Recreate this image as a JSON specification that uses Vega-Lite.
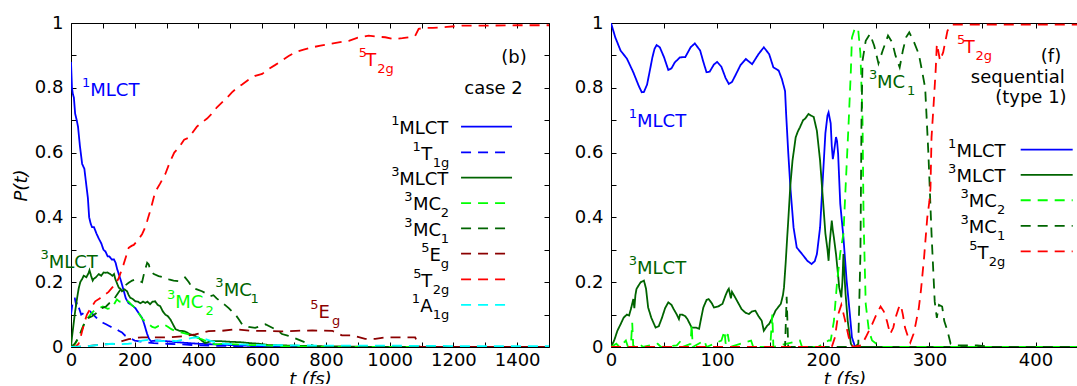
{
"$schema": "https://vega.github.io/schema/vega-lite/v6.json",
"padding": {"left": 12, "top": 14, "right": 0, "bottom": -4},
"bounds": "flush",
"spacing": 62,
"config": {
  "view": {"stroke": null},
  "font": "DejaVu Sans",
  "axis": {"labelFont": "DejaVu Sans", "labelFontSize": 18, "labelColor": "#000", "titleFont": "DejaVu Sans", "titleFontSize": 18, "titleColor": "#000", "titleFontWeight": "normal", "grid": false, "domainColor": "#000", "domainWidth": 1, "tickColor": "#000", "tickSize": -5, "tickWidth": 1, "labelFlush": false, "labelOverlap": false, "labelBound": false}
},
"datasets": {
"curves": [
{"g":"b","s":"1MLCT","t":0,"p":0.88},{"g":"b","s":"1MLCT","t":3,"p":0.8},{"g":"b","s":"1MLCT","t":6,"p":0.78},{"g":"b","s":"1MLCT","t":9,"p":0.77},{"g":"b","s":"1MLCT","t":13,"p":0.72},{"g":"b","s":"1MLCT","t":18,"p":0.7},{"g":"b","s":"1MLCT","t":22,"p":0.68},{"g":"b","s":"1MLCT","t":28,"p":0.62},{"g":"b","s":"1MLCT","t":35,"p":0.565},{"g":"b","s":"1MLCT","t":42,"p":0.55},{"g":"b","s":"1MLCT","t":48,"p":0.5},{"g":"b","s":"1MLCT","t":53,"p":0.46},{"g":"b","s":"1MLCT","t":57,"p":0.4},{"g":"b","s":"1MLCT","t":62,"p":0.38},{"g":"b","s":"1MLCT","t":66,"p":0.37},{"g":"b","s":"1MLCT","t":72,"p":0.37},{"g":"b","s":"1MLCT","t":80,"p":0.35},{"g":"b","s":"1MLCT","t":87,"p":0.335},{"g":"b","s":"1MLCT","t":95,"p":0.32},{"g":"b","s":"1MLCT","t":102,"p":0.3},{"g":"b","s":"1MLCT","t":108,"p":0.295},{"g":"b","s":"1MLCT","t":115,"p":0.28},{"g":"b","s":"1MLCT","t":120,"p":0.28},{"g":"b","s":"1MLCT","t":128,"p":0.27},{"g":"b","s":"1MLCT","t":135,"p":0.27},{"g":"b","s":"1MLCT","t":140,"p":0.26},{"g":"b","s":"1MLCT","t":145,"p":0.24},{"g":"b","s":"1MLCT","t":150,"p":0.225},{"g":"b","s":"1MLCT","t":158,"p":0.2},{"g":"b","s":"1MLCT","t":165,"p":0.175},{"g":"b","s":"1MLCT","t":172,"p":0.15},{"g":"b","s":"1MLCT","t":181,"p":0.135},{"g":"b","s":"1MLCT","t":190,"p":0.13},{"g":"b","s":"1MLCT","t":202,"p":0.12},{"g":"b","s":"1MLCT","t":212,"p":0.105},{"g":"b","s":"1MLCT","t":223,"p":0.09},{"g":"b","s":"1MLCT","t":230,"p":0.07},{"g":"b","s":"1MLCT","t":239,"p":0.04},{"g":"b","s":"1MLCT","t":245,"p":0.025},{"g":"b","s":"1MLCT","t":251,"p":0.018},{"g":"b","s":"1MLCT","t":270,"p":0.02},{"g":"b","s":"1MLCT","t":300,"p":0.018},{"g":"b","s":"1MLCT","t":330,"p":0.015},{"g":"b","s":"1MLCT","t":370,"p":0.012},{"g":"b","s":"1MLCT","t":400,"p":0.01},{"g":"b","s":"1MLCT","t":450,"p":0.008},{"g":"b","s":"1MLCT","t":500,"p":0.006},{"g":"b","s":"1MLCT","t":550,"p":0.004},{"g":"b","s":"1MLCT","t":600,"p":0.002},{"g":"b","s":"1MLCT","t":700,"p":0.001},{"g":"b","s":"1MLCT","t":800,"p":0},{"g":"b","s":"1MLCT","t":1500,"p":0},
{"g":"b","s":"1T1g","t":0,"p":0.1},{"g":"b","s":"1T1g","t":4,"p":0.13},{"g":"b","s":"1T1g","t":8,"p":0.15},{"g":"b","s":"1T1g","t":12,"p":0.15},{"g":"b","s":"1T1g","t":16,"p":0.13},{"g":"b","s":"1T1g","t":20,"p":0.14},{"g":"b","s":"1T1g","t":25,"p":0.12},{"g":"b","s":"1T1g","t":32,"p":0.1},{"g":"b","s":"1T1g","t":40,"p":0.105},{"g":"b","s":"1T1g","t":50,"p":0.11},{"g":"b","s":"1T1g","t":60,"p":0.11},{"g":"b","s":"1T1g","t":70,"p":0.1},{"g":"b","s":"1T1g","t":80,"p":0.09},{"g":"b","s":"1T1g","t":90,"p":0.08},{"g":"b","s":"1T1g","t":100,"p":0.075},{"g":"b","s":"1T1g","t":110,"p":0.07},{"g":"b","s":"1T1g","t":120,"p":0.065},{"g":"b","s":"1T1g","t":130,"p":0.06},{"g":"b","s":"1T1g","t":140,"p":0.058},{"g":"b","s":"1T1g","t":150,"p":0.05},{"g":"b","s":"1T1g","t":160,"p":0.045},{"g":"b","s":"1T1g","t":170,"p":0.035},{"g":"b","s":"1T1g","t":180,"p":0.03},{"g":"b","s":"1T1g","t":190,"p":0.025},{"g":"b","s":"1T1g","t":200,"p":0.02},{"g":"b","s":"1T1g","t":230,"p":0.015},{"g":"b","s":"1T1g","t":260,"p":0.012},{"g":"b","s":"1T1g","t":300,"p":0.01},{"g":"b","s":"1T1g","t":350,"p":0.008},{"g":"b","s":"1T1g","t":400,"p":0.005},{"g":"b","s":"1T1g","t":500,"p":0.003},{"g":"b","s":"1T1g","t":600,"p":0.002},{"g":"b","s":"1T1g","t":800,"p":0},{"g":"b","s":"1T1g","t":1500,"p":0},
{"g":"b","s":"3MLCT","t":0,"p":0},{"g":"b","s":"3MLCT","t":3,"p":0.03},{"g":"b","s":"3MLCT","t":8,"p":0.07},{"g":"b","s":"3MLCT","t":13,"p":0.11},{"g":"b","s":"3MLCT","t":19,"p":0.15},{"g":"b","s":"3MLCT","t":24,"p":0.18},{"g":"b","s":"3MLCT","t":29,"p":0.2},{"g":"b","s":"3MLCT","t":35,"p":0.21},{"g":"b","s":"3MLCT","t":40,"p":0.22},{"g":"b","s":"3MLCT","t":48,"p":0.215},{"g":"b","s":"3MLCT","t":55,"p":0.228},{"g":"b","s":"3MLCT","t":58,"p":0.237},{"g":"b","s":"3MLCT","t":63,"p":0.22},{"g":"b","s":"3MLCT","t":68,"p":0.205},{"g":"b","s":"3MLCT","t":71,"p":0.21},{"g":"b","s":"3MLCT","t":78,"p":0.215},{"g":"b","s":"3MLCT","t":87,"p":0.225},{"g":"b","s":"3MLCT","t":95,"p":0.22},{"g":"b","s":"3MLCT","t":102,"p":0.23},{"g":"b","s":"3MLCT","t":108,"p":0.229},{"g":"b","s":"3MLCT","t":115,"p":0.23},{"g":"b","s":"3MLCT","t":123,"p":0.225},{"g":"b","s":"3MLCT","t":130,"p":0.22},{"g":"b","s":"3MLCT","t":135,"p":0.225},{"g":"b","s":"3MLCT","t":139,"p":0.21},{"g":"b","s":"3MLCT","t":145,"p":0.195},{"g":"b","s":"3MLCT","t":150,"p":0.183},{"g":"b","s":"3MLCT","t":155,"p":0.18},{"g":"b","s":"3MLCT","t":160,"p":0.172},{"g":"b","s":"3MLCT","t":168,"p":0.178},{"g":"b","s":"3MLCT","t":176,"p":0.172},{"g":"b","s":"3MLCT","t":181,"p":0.16},{"g":"b","s":"3MLCT","t":186,"p":0.152},{"g":"b","s":"3MLCT","t":194,"p":0.148},{"g":"b","s":"3MLCT","t":202,"p":0.141},{"g":"b","s":"3MLCT","t":210,"p":0.14},{"g":"b","s":"3MLCT","t":218,"p":0.135},{"g":"b","s":"3MLCT","t":226,"p":0.14},{"g":"b","s":"3MLCT","t":233,"p":0.136},{"g":"b","s":"3MLCT","t":240,"p":0.14},{"g":"b","s":"3MLCT","t":248,"p":0.132},{"g":"b","s":"3MLCT","t":256,"p":0.14},{"g":"b","s":"3MLCT","t":264,"p":0.141},{"g":"b","s":"3MLCT","t":272,"p":0.13},{"g":"b","s":"3MLCT","t":280,"p":0.126},{"g":"b","s":"3MLCT","t":288,"p":0.11},{"g":"b","s":"3MLCT","t":296,"p":0.1},{"g":"b","s":"3MLCT","t":304,"p":0.095},{"g":"b","s":"3MLCT","t":312,"p":0.085},{"g":"b","s":"3MLCT","t":320,"p":0.07},{"g":"b","s":"3MLCT","t":328,"p":0.055},{"g":"b","s":"3MLCT","t":340,"p":0.05},{"g":"b","s":"3MLCT","t":354,"p":0.049},{"g":"b","s":"3MLCT","t":364,"p":0.045},{"g":"b","s":"3MLCT","t":374,"p":0.039},{"g":"b","s":"3MLCT","t":388,"p":0.035},{"g":"b","s":"3MLCT","t":401,"p":0.028},{"g":"b","s":"3MLCT","t":410,"p":0.02},{"g":"b","s":"3MLCT","t":421,"p":0.012},{"g":"b","s":"3MLCT","t":440,"p":0.018},{"g":"b","s":"3MLCT","t":470,"p":0.018},{"g":"b","s":"3MLCT","t":500,"p":0.016},{"g":"b","s":"3MLCT","t":530,"p":0.015},{"g":"b","s":"3MLCT","t":560,"p":0.012},{"g":"b","s":"3MLCT","t":590,"p":0.01},{"g":"b","s":"3MLCT","t":620,"p":0.006},{"g":"b","s":"3MLCT","t":700,"p":0.004},{"g":"b","s":"3MLCT","t":800,"p":0.002},{"g":"b","s":"3MLCT","t":1000,"p":0},{"g":"b","s":"3MLCT","t":1500,"p":0},
{"g":"b","s":"3MC2","t":0,"p":0},{"g":"b","s":"3MC2","t":10,"p":0.005},{"g":"b","s":"3MC2","t":24,"p":0.028},{"g":"b","s":"3MC2","t":32,"p":0.05},{"g":"b","s":"3MC2","t":40,"p":0.07},{"g":"b","s":"3MC2","t":50,"p":0.085},{"g":"b","s":"3MC2","t":61,"p":0.1},{"g":"b","s":"3MC2","t":70,"p":0.11},{"g":"b","s":"3MC2","t":80,"p":0.115},{"g":"b","s":"3MC2","t":87,"p":0.12},{"g":"b","s":"3MC2","t":100,"p":0.125},{"g":"b","s":"3MC2","t":115,"p":0.118},{"g":"b","s":"3MC2","t":129,"p":0.12},{"g":"b","s":"3MC2","t":137,"p":0.135},{"g":"b","s":"3MC2","t":144,"p":0.147},{"g":"b","s":"3MC2","t":152,"p":0.14},{"g":"b","s":"3MC2","t":160,"p":0.141},{"g":"b","s":"3MC2","t":170,"p":0.145},{"g":"b","s":"3MC2","t":181,"p":0.14},{"g":"b","s":"3MC2","t":190,"p":0.13},{"g":"b","s":"3MC2","t":202,"p":0.12},{"g":"b","s":"3MC2","t":215,"p":0.1},{"g":"b","s":"3MC2","t":225,"p":0.085},{"g":"b","s":"3MC2","t":233,"p":0.08},{"g":"b","s":"3MC2","t":245,"p":0.07},{"g":"b","s":"3MC2","t":255,"p":0.062},{"g":"b","s":"3MC2","t":264,"p":0.059},{"g":"b","s":"3MC2","t":275,"p":0.065},{"g":"b","s":"3MC2","t":291,"p":0.07},{"g":"b","s":"3MC2","t":305,"p":0.062},{"g":"b","s":"3MC2","t":315,"p":0.055},{"g":"b","s":"3MC2","t":328,"p":0.049},{"g":"b","s":"3MC2","t":345,"p":0.045},{"g":"b","s":"3MC2","t":369,"p":0.039},{"g":"b","s":"3MC2","t":390,"p":0.03},{"g":"b","s":"3MC2","t":411,"p":0.024},{"g":"b","s":"3MC2","t":430,"p":0.015},{"g":"b","s":"3MC2","t":453,"p":0.008},{"g":"b","s":"3MC2","t":480,"p":0.01},{"g":"b","s":"3MC2","t":520,"p":0.008},{"g":"b","s":"3MC2","t":560,"p":0.006},{"g":"b","s":"3MC2","t":600,"p":0.005},{"g":"b","s":"3MC2","t":650,"p":0.003},{"g":"b","s":"3MC2","t":700,"p":0.002},{"g":"b","s":"3MC2","t":800,"p":0},{"g":"b","s":"3MC2","t":1500,"p":0},
{"g":"b","s":"3MC1","t":0,"p":0},{"g":"b","s":"3MC1","t":12,"p":0.01},{"g":"b","s":"3MC1","t":24,"p":0.03},{"g":"b","s":"3MC1","t":35,"p":0.055},{"g":"b","s":"3MC1","t":45,"p":0.08},{"g":"b","s":"3MC1","t":55,"p":0.09},{"g":"b","s":"3MC1","t":66,"p":0.095},{"g":"b","s":"3MC1","t":80,"p":0.105},{"g":"b","s":"3MC1","t":97,"p":0.12},{"g":"b","s":"3MC1","t":110,"p":0.125},{"g":"b","s":"3MC1","t":120,"p":0.135},{"g":"b","s":"3MC1","t":129,"p":0.141},{"g":"b","s":"3MC1","t":140,"p":0.155},{"g":"b","s":"3MC1","t":150,"p":0.17},{"g":"b","s":"3MC1","t":160,"p":0.183},{"g":"b","s":"3MC1","t":170,"p":0.19},{"g":"b","s":"3MC1","t":181,"p":0.198},{"g":"b","s":"3MC1","t":192,"p":0.205},{"g":"b","s":"3MC1","t":202,"p":0.209},{"g":"b","s":"3MC1","t":212,"p":0.205},{"g":"b","s":"3MC1","t":223,"p":0.2},{"g":"b","s":"3MC1","t":230,"p":0.23},{"g":"b","s":"3MC1","t":239,"p":0.26},{"g":"b","s":"3MC1","t":244,"p":0.255},{"g":"b","s":"3MC1","t":249,"p":0.235},{"g":"b","s":"3MC1","t":260,"p":0.225},{"g":"b","s":"3MC1","t":275,"p":0.219},{"g":"b","s":"3MC1","t":290,"p":0.215},{"g":"b","s":"3MC1","t":307,"p":0.209},{"g":"b","s":"3MC1","t":322,"p":0.205},{"g":"b","s":"3MC1","t":338,"p":0.203},{"g":"b","s":"3MC1","t":348,"p":0.21},{"g":"b","s":"3MC1","t":358,"p":0.215},{"g":"b","s":"3MC1","t":370,"p":0.2},{"g":"b","s":"3MC1","t":380,"p":0.183},{"g":"b","s":"3MC1","t":395,"p":0.178},{"g":"b","s":"3MC1","t":411,"p":0.172},{"g":"b","s":"3MC1","t":425,"p":0.165},{"g":"b","s":"3MC1","t":437,"p":0.157},{"g":"b","s":"3MC1","t":447,"p":0.16},{"g":"b","s":"3MC1","t":457,"p":0.15},{"g":"b","s":"3MC1","t":470,"p":0.14},{"g":"b","s":"3MC1","t":483,"p":0.13},{"g":"b","s":"3MC1","t":495,"p":0.12},{"g":"b","s":"3MC1","t":505,"p":0.11},{"g":"b","s":"3MC1","t":516,"p":0.1},{"g":"b","s":"3MC1","t":527,"p":0.085},{"g":"b","s":"3MC1","t":537,"p":0.07},{"g":"b","s":"3MC1","t":557,"p":0.062},{"g":"b","s":"3MC1","t":578,"p":0.059},{"g":"b","s":"3MC1","t":595,"p":0.065},{"g":"b","s":"3MC1","t":610,"p":0.07},{"g":"b","s":"3MC1","t":630,"p":0.06},{"g":"b","s":"3MC1","t":650,"p":0.05},{"g":"b","s":"3MC1","t":662,"p":0.04},{"g":"b","s":"3MC1","t":680,"p":0.035},{"g":"b","s":"3MC1","t":703,"p":0.027},{"g":"b","s":"3MC1","t":725,"p":0.018},{"g":"b","s":"3MC1","t":745,"p":0.01},{"g":"b","s":"3MC1","t":766,"p":0.002},{"g":"b","s":"3MC1","t":800,"p":0},{"g":"b","s":"3MC1","t":1500,"p":0},
{"g":"b","s":"5Eg","t":0,"p":0},{"g":"b","s":"5Eg","t":50,"p":0.002},{"g":"b","s":"5Eg","t":97,"p":0.008},{"g":"b","s":"5Eg","t":139,"p":0.01},{"g":"b","s":"5Eg","t":160,"p":0.018},{"g":"b","s":"5Eg","t":181,"p":0.024},{"g":"b","s":"5Eg","t":202,"p":0.028},{"g":"b","s":"5Eg","t":223,"p":0.03},{"g":"b","s":"5Eg","t":264,"p":0.03},{"g":"b","s":"5Eg","t":307,"p":0.03},{"g":"b","s":"5Eg","t":348,"p":0.033},{"g":"b","s":"5Eg","t":390,"p":0.039},{"g":"b","s":"5Eg","t":432,"p":0.049},{"g":"b","s":"5Eg","t":474,"p":0.05},{"g":"b","s":"5Eg","t":516,"p":0.055},{"g":"b","s":"5Eg","t":568,"p":0.05},{"g":"b","s":"5Eg","t":620,"p":0.05},{"g":"b","s":"5Eg","t":660,"p":0.048},{"g":"b","s":"5Eg","t":705,"p":0.05},{"g":"b","s":"5Eg","t":757,"p":0.051},{"g":"b","s":"5Eg","t":820,"p":0.05},{"g":"b","s":"5Eg","t":850,"p":0.036},{"g":"b","s":"5Eg","t":883,"p":0.036},{"g":"b","s":"5Eg","t":923,"p":0.025},{"g":"b","s":"5Eg","t":955,"p":0.025},{"g":"b","s":"5Eg","t":986,"p":0.03},{"g":"b","s":"5Eg","t":1040,"p":0.03},{"g":"b","s":"5Eg","t":1080,"p":0.03},{"g":"b","s":"5Eg","t":1092,"p":0.002},{"g":"b","s":"5Eg","t":1100,"p":0},{"g":"b","s":"5Eg","t":1500,"p":0},
{"g":"b","s":"5T2g","t":0,"p":0},{"g":"b","s":"5T2g","t":15,"p":0.002},{"g":"b","s":"5T2g","t":24,"p":0.01},{"g":"b","s":"5T2g","t":30,"p":0.03},{"g":"b","s":"5T2g","t":35,"p":0.049},{"g":"b","s":"5T2g","t":42,"p":0.075},{"g":"b","s":"5T2g","t":50,"p":0.1},{"g":"b","s":"5T2g","t":62,"p":0.12},{"g":"b","s":"5T2g","t":76,"p":0.141},{"g":"b","s":"5T2g","t":90,"p":0.15},{"g":"b","s":"5T2g","t":108,"p":0.163},{"g":"b","s":"5T2g","t":118,"p":0.17},{"g":"b","s":"5T2g","t":129,"p":0.183},{"g":"b","s":"5T2g","t":140,"p":0.195},{"g":"b","s":"5T2g","t":150,"p":0.213},{"g":"b","s":"5T2g","t":158,"p":0.235},{"g":"b","s":"5T2g","t":165,"p":0.255},{"g":"b","s":"5T2g","t":173,"p":0.28},{"g":"b","s":"5T2g","t":181,"p":0.306},{"g":"b","s":"5T2g","t":190,"p":0.312},{"g":"b","s":"5T2g","t":197,"p":0.315},{"g":"b","s":"5T2g","t":210,"p":0.33},{"g":"b","s":"5T2g","t":223,"p":0.348},{"g":"b","s":"5T2g","t":231,"p":0.365},{"g":"b","s":"5T2g","t":239,"p":0.389},{"g":"b","s":"5T2g","t":247,"p":0.415},{"g":"b","s":"5T2g","t":254,"p":0.44},{"g":"b","s":"5T2g","t":264,"p":0.478},{"g":"b","s":"5T2g","t":280,"p":0.505},{"g":"b","s":"5T2g","t":296,"p":0.534},{"g":"b","s":"5T2g","t":310,"p":0.57},{"g":"b","s":"5T2g","t":324,"p":0.6},{"g":"b","s":"5T2g","t":338,"p":0.615},{"g":"b","s":"5T2g","t":355,"p":0.64},{"g":"b","s":"5T2g","t":370,"p":0.646},{"g":"b","s":"5T2g","t":380,"p":0.66},{"g":"b","s":"5T2g","t":395,"p":0.68},{"g":"b","s":"5T2g","t":411,"p":0.693},{"g":"b","s":"5T2g","t":427,"p":0.705},{"g":"b","s":"5T2g","t":442,"p":0.72},{"g":"b","s":"5T2g","t":458,"p":0.74},{"g":"b","s":"5T2g","t":474,"p":0.755},{"g":"b","s":"5T2g","t":490,"p":0.77},{"g":"b","s":"5T2g","t":505,"p":0.786},{"g":"b","s":"5T2g","t":521,"p":0.8},{"g":"b","s":"5T2g","t":537,"p":0.81},{"g":"b","s":"5T2g","t":557,"p":0.825},{"g":"b","s":"5T2g","t":578,"p":0.837},{"g":"b","s":"5T2g","t":600,"p":0.843},{"g":"b","s":"5T2g","t":620,"p":0.858},{"g":"b","s":"5T2g","t":640,"p":0.87},{"g":"b","s":"5T2g","t":662,"p":0.884},{"g":"b","s":"5T2g","t":683,"p":0.898},{"g":"b","s":"5T2g","t":704,"p":0.91},{"g":"b","s":"5T2g","t":730,"p":0.918},{"g":"b","s":"5T2g","t":757,"p":0.925},{"g":"b","s":"5T2g","t":783,"p":0.93},{"g":"b","s":"5T2g","t":809,"p":0.935},{"g":"b","s":"5T2g","t":840,"p":0.94},{"g":"b","s":"5T2g","t":872,"p":0.945},{"g":"b","s":"5T2g","t":900,"p":0.955},{"g":"b","s":"5T2g","t":934,"p":0.961},{"g":"b","s":"5T2g","t":960,"p":0.958},{"g":"b","s":"5T2g","t":986,"p":0.956},{"g":"b","s":"5T2g","t":1015,"p":0.95},{"g":"b","s":"5T2g","t":1040,"p":0.953},{"g":"b","s":"5T2g","t":1060,"p":0.956},{"g":"b","s":"5T2g","t":1080,"p":0.96},{"g":"b","s":"5T2g","t":1091,"p":0.982},{"g":"b","s":"5T2g","t":1110,"p":0.985},{"g":"b","s":"5T2g","t":1136,"p":0.985},{"g":"b","s":"5T2g","t":1180,"p":0.988},{"g":"b","s":"5T2g","t":1227,"p":0.992},{"g":"b","s":"5T2g","t":1300,"p":0.992},{"g":"b","s":"5T2g","t":1400,"p":0.993},{"g":"b","s":"5T2g","t":1500,"p":0.993},
{"g":"b","s":"1A1g","t":0,"p":0},{"g":"b","s":"1A1g","t":50,"p":0.002},{"g":"b","s":"1A1g","t":100,"p":0.008},{"g":"b","s":"1A1g","t":130,"p":0.01},{"g":"b","s":"1A1g","t":150,"p":0.008},{"g":"b","s":"1A1g","t":180,"p":0.01},{"g":"b","s":"1A1g","t":200,"p":0.012},{"g":"b","s":"1A1g","t":223,"p":0.02},{"g":"b","s":"1A1g","t":245,"p":0.022},{"g":"b","s":"1A1g","t":265,"p":0.02},{"g":"b","s":"1A1g","t":290,"p":0.018},{"g":"b","s":"1A1g","t":310,"p":0.02},{"g":"b","s":"1A1g","t":330,"p":0.018},{"g":"b","s":"1A1g","t":350,"p":0.022},{"g":"b","s":"1A1g","t":380,"p":0.028},{"g":"b","s":"1A1g","t":400,"p":0.03},{"g":"b","s":"1A1g","t":420,"p":0.025},{"g":"b","s":"1A1g","t":440,"p":0.018},{"g":"b","s":"1A1g","t":453,"p":0.015},{"g":"b","s":"1A1g","t":480,"p":0.01},{"g":"b","s":"1A1g","t":520,"p":0.008},{"g":"b","s":"1A1g","t":600,"p":0.006},{"g":"b","s":"1A1g","t":700,"p":0.005},{"g":"b","s":"1A1g","t":800,"p":0.004},{"g":"b","s":"1A1g","t":1000,"p":0.004},{"g":"b","s":"1A1g","t":1200,"p":0.003},{"g":"b","s":"1A1g","t":1500,"p":0.003},
{"g":"f","s":"1MLCT","t":0,"p":1},{"g":"f","s":"1MLCT","t":4,"p":0.956},{"g":"f","s":"1MLCT","t":9,"p":0.915},{"g":"f","s":"1MLCT","t":15,"p":0.89},{"g":"f","s":"1MLCT","t":21,"p":0.848},{"g":"f","s":"1MLCT","t":26,"p":0.807},{"g":"f","s":"1MLCT","t":29,"p":0.786},{"g":"f","s":"1MLCT","t":31,"p":0.787},{"g":"f","s":"1MLCT","t":34,"p":0.81},{"g":"f","s":"1MLCT","t":37,"p":0.86},{"g":"f","s":"1MLCT","t":39,"p":0.894},{"g":"f","s":"1MLCT","t":41,"p":0.92},{"g":"f","s":"1MLCT","t":43,"p":0.932},{"g":"f","s":"1MLCT","t":46,"p":0.925},{"g":"f","s":"1MLCT","t":50,"p":0.894},{"g":"f","s":"1MLCT","t":54,"p":0.855},{"g":"f","s":"1MLCT","t":57,"p":0.86},{"g":"f","s":"1MLCT","t":60,"p":0.878},{"g":"f","s":"1MLCT","t":65,"p":0.894},{"g":"f","s":"1MLCT","t":70,"p":0.895},{"g":"f","s":"1MLCT","t":75,"p":0.925},{"g":"f","s":"1MLCT","t":79,"p":0.937},{"g":"f","s":"1MLCT","t":84,"p":0.915},{"g":"f","s":"1MLCT","t":87,"p":0.88},{"g":"f","s":"1MLCT","t":90,"p":0.848},{"g":"f","s":"1MLCT","t":93,"p":0.85},{"g":"f","s":"1MLCT","t":97,"p":0.872},{"g":"f","s":"1MLCT","t":100,"p":0.88},{"g":"f","s":"1MLCT","t":104,"p":0.865},{"g":"f","s":"1MLCT","t":108,"p":0.83},{"g":"f","s":"1MLCT","t":111,"p":0.812},{"g":"f","s":"1MLCT","t":114,"p":0.818},{"g":"f","s":"1MLCT","t":117,"p":0.837},{"g":"f","s":"1MLCT","t":122,"p":0.87},{"g":"f","s":"1MLCT","t":127,"p":0.889},{"g":"f","s":"1MLCT","t":133,"p":0.873},{"g":"f","s":"1MLCT","t":139,"p":0.904},{"g":"f","s":"1MLCT","t":144,"p":0.925},{"g":"f","s":"1MLCT","t":149,"p":0.904},{"g":"f","s":"1MLCT","t":153,"p":0.863},{"g":"f","s":"1MLCT","t":158,"p":0.853},{"g":"f","s":"1MLCT","t":161,"p":0.827},{"g":"f","s":"1MLCT","t":164,"p":0.79},{"g":"f","s":"1MLCT","t":165,"p":0.72},{"g":"f","s":"1MLCT","t":167,"p":0.6},{"g":"f","s":"1MLCT","t":169,"p":0.493},{"g":"f","s":"1MLCT","t":172,"p":0.369},{"g":"f","s":"1MLCT","t":175,"p":0.307},{"g":"f","s":"1MLCT","t":180,"p":0.287},{"g":"f","s":"1MLCT","t":185,"p":0.266},{"g":"f","s":"1MLCT","t":189,"p":0.256},{"g":"f","s":"1MLCT","t":192,"p":0.265},{"g":"f","s":"1MLCT","t":194,"p":0.287},{"g":"f","s":"1MLCT","t":197,"p":0.369},{"g":"f","s":"1MLCT","t":200,"p":0.544},{"g":"f","s":"1MLCT","t":202,"p":0.66},{"g":"f","s":"1MLCT","t":204,"p":0.715},{"g":"f","s":"1MLCT","t":205,"p":0.724},{"g":"f","s":"1MLCT","t":207,"p":0.69},{"g":"f","s":"1MLCT","t":208,"p":0.62},{"g":"f","s":"1MLCT","t":209,"p":0.58},{"g":"f","s":"1MLCT","t":210,"p":0.6},{"g":"f","s":"1MLCT","t":212,"p":0.648},{"g":"f","s":"1MLCT","t":213,"p":0.635},{"g":"f","s":"1MLCT","t":214,"p":0.596},{"g":"f","s":"1MLCT","t":216,"p":0.442},{"g":"f","s":"1MLCT","t":219,"p":0.338},{"g":"f","s":"1MLCT","t":222,"p":0.205},{"g":"f","s":"1MLCT","t":225,"p":0.103},{"g":"f","s":"1MLCT","t":227,"p":0.03},{"g":"f","s":"1MLCT","t":230,"p":0},{"g":"f","s":"1MLCT","t":440,"p":0},
{"g":"f","s":"3MLCT","t":0,"p":0},{"g":"f","s":"3MLCT","t":3,"p":0.02},{"g":"f","s":"3MLCT","t":6,"p":0.05},{"g":"f","s":"3MLCT","t":9,"p":0.07},{"g":"f","s":"3MLCT","t":12,"p":0.091},{"g":"f","s":"3MLCT","t":15,"p":0.1},{"g":"f","s":"3MLCT","t":17,"p":0.097},{"g":"f","s":"3MLCT","t":19,"p":0.12},{"g":"f","s":"3MLCT","t":21,"p":0.148},{"g":"f","s":"3MLCT","t":22,"p":0.12},{"g":"f","s":"3MLCT","t":23,"p":0.16},{"g":"f","s":"3MLCT","t":24,"p":0.179},{"g":"f","s":"3MLCT","t":26,"p":0.19},{"g":"f","s":"3MLCT","t":28,"p":0.2},{"g":"f","s":"3MLCT","t":31,"p":0.205},{"g":"f","s":"3MLCT","t":33,"p":0.18},{"g":"f","s":"3MLCT","t":35,"p":0.122},{"g":"f","s":"3MLCT","t":38,"p":0.09},{"g":"f","s":"3MLCT","t":42,"p":0.06},{"g":"f","s":"3MLCT","t":45,"p":0.064},{"g":"f","s":"3MLCT","t":48,"p":0.09},{"g":"f","s":"3MLCT","t":51,"p":0.12},{"g":"f","s":"3MLCT","t":54,"p":0.138},{"g":"f","s":"3MLCT","t":57,"p":0.13},{"g":"f","s":"3MLCT","t":59,"p":0.117},{"g":"f","s":"3MLCT","t":62,"p":0.1},{"g":"f","s":"3MLCT","t":64,"p":0.086},{"g":"f","s":"3MLCT","t":65,"p":0.1},{"g":"f","s":"3MLCT","t":67,"p":0.1},{"g":"f","s":"3MLCT","t":70,"p":0.095},{"g":"f","s":"3MLCT","t":72,"p":0.086},{"g":"f","s":"3MLCT","t":76,"p":0.06},{"g":"f","s":"3MLCT","t":80,"p":0.06},{"g":"f","s":"3MLCT","t":83,"p":0.056},{"g":"f","s":"3MLCT","t":85,"p":0.09},{"g":"f","s":"3MLCT","t":87,"p":0.122},{"g":"f","s":"3MLCT","t":90,"p":0.145},{"g":"f","s":"3MLCT","t":92,"p":0.148},{"g":"f","s":"3MLCT","t":95,"p":0.135},{"g":"f","s":"3MLCT","t":97,"p":0.122},{"g":"f","s":"3MLCT","t":101,"p":0.125},{"g":"f","s":"3MLCT","t":105,"p":0.133},{"g":"f","s":"3MLCT","t":108,"p":0.16},{"g":"f","s":"3MLCT","t":110,"p":0.175},{"g":"f","s":"3MLCT","t":111,"p":0.18},{"g":"f","s":"3MLCT","t":113,"p":0.15},{"g":"f","s":"3MLCT","t":114,"p":0.17},{"g":"f","s":"3MLCT","t":117,"p":0.153},{"g":"f","s":"3MLCT","t":120,"p":0.135},{"g":"f","s":"3MLCT","t":123,"p":0.117},{"g":"f","s":"3MLCT","t":127,"p":0.105},{"g":"f","s":"3MLCT","t":130,"p":0.102},{"g":"f","s":"3MLCT","t":133,"p":0.11},{"g":"f","s":"3MLCT","t":136,"p":0.112},{"g":"f","s":"3MLCT","t":139,"p":0.095},{"g":"f","s":"3MLCT","t":142,"p":0.081},{"g":"f","s":"3MLCT","t":144,"p":0.05},{"g":"f","s":"3MLCT","t":147,"p":0.065},{"g":"f","s":"3MLCT","t":149,"p":0.071},{"g":"f","s":"3MLCT","t":152,"p":0.09},{"g":"f","s":"3MLCT","t":155,"p":0.112},{"g":"f","s":"3MLCT","t":158,"p":0.125},{"g":"f","s":"3MLCT","t":160,"p":0.133},{"g":"f","s":"3MLCT","t":162,"p":0.16},{"g":"f","s":"3MLCT","t":163,"p":0.184},{"g":"f","s":"3MLCT","t":164.5,"p":0.256},{"g":"f","s":"3MLCT","t":166,"p":0.338},{"g":"f","s":"3MLCT","t":167,"p":0.39},{"g":"f","s":"3MLCT","t":169,"p":0.5},{"g":"f","s":"3MLCT","t":171,"p":0.575},{"g":"f","s":"3MLCT","t":174,"p":0.647},{"g":"f","s":"3MLCT","t":176,"p":0.665},{"g":"f","s":"3MLCT","t":178,"p":0.678},{"g":"f","s":"3MLCT","t":181,"p":0.7},{"g":"f","s":"3MLCT","t":183,"p":0.705},{"g":"f","s":"3MLCT","t":186,"p":0.719},{"g":"f","s":"3MLCT","t":188,"p":0.715},{"g":"f","s":"3MLCT","t":191,"p":0.71},{"g":"f","s":"3MLCT","t":194,"p":0.667},{"g":"f","s":"3MLCT","t":197,"p":0.575},{"g":"f","s":"3MLCT","t":200,"p":0.441},{"g":"f","s":"3MLCT","t":202,"p":0.35},{"g":"f","s":"3MLCT","t":204,"p":0.3},{"g":"f","s":"3MLCT","t":205,"p":0.266},{"g":"f","s":"3MLCT","t":206,"p":0.32},{"g":"f","s":"3MLCT","t":208,"p":0.39},{"g":"f","s":"3MLCT","t":209,"p":0.36},{"g":"f","s":"3MLCT","t":210,"p":0.338},{"g":"f","s":"3MLCT","t":212,"p":0.287},{"g":"f","s":"3MLCT","t":214,"p":0.22},{"g":"f","s":"3MLCT","t":215,"p":0.184},{"g":"f","s":"3MLCT","t":217,"p":0.153},{"g":"f","s":"3MLCT","t":218,"p":0.2},{"g":"f","s":"3MLCT","t":219,"p":0.287},{"g":"f","s":"3MLCT","t":220,"p":0.22},{"g":"f","s":"3MLCT","t":221,"p":0.164},{"g":"f","s":"3MLCT","t":223,"p":0.081},{"g":"f","s":"3MLCT","t":226,"p":0.01},{"g":"f","s":"3MLCT","t":228,"p":0},{"g":"f","s":"3MLCT","t":440,"p":0},
{"g":"f","s":"3MC2","t":0,"p":0},{"g":"f","s":"3MC2","t":5,"p":0.01},{"g":"f","s":"3MC2","t":8,"p":0},{"g":"f","s":"3MC2","t":14,"p":0.02},{"g":"f","s":"3MC2","t":16,"p":0},{"g":"f","s":"3MC2","t":19,"p":0.02},{"g":"f","s":"3MC2","t":20,"p":0.075},{"g":"f","s":"3MC2","t":21,"p":0},{"g":"f","s":"3MC2","t":27,"p":0.01},{"g":"f","s":"3MC2","t":30,"p":0},{"g":"f","s":"3MC2","t":44,"p":0.01},{"g":"f","s":"3MC2","t":47,"p":0},{"g":"f","s":"3MC2","t":62,"p":0.005},{"g":"f","s":"3MC2","t":66,"p":0.02},{"g":"f","s":"3MC2","t":67,"p":0},{"g":"f","s":"3MC2","t":75,"p":0.01},{"g":"f","s":"3MC2","t":76,"p":0.07},{"g":"f","s":"3MC2","t":77,"p":0},{"g":"f","s":"3MC2","t":88,"p":0.02},{"g":"f","s":"3MC2","t":90,"p":0},{"g":"f","s":"3MC2","t":104,"p":0.02},{"g":"f","s":"3MC2","t":107,"p":0.05},{"g":"f","s":"3MC2","t":108,"p":0.01},{"g":"f","s":"3MC2","t":110,"p":0.04},{"g":"f","s":"3MC2","t":112,"p":0},{"g":"f","s":"3MC2","t":132,"p":0.02},{"g":"f","s":"3MC2","t":134,"p":0},{"g":"f","s":"3MC2","t":150,"p":0},{"g":"f","s":"3MC2","t":152,"p":0.1},{"g":"f","s":"3MC2","t":153,"p":0},{"g":"f","s":"3MC2","t":178,"p":0.02},{"g":"f","s":"3MC2","t":180,"p":0},{"g":"f","s":"3MC2","t":195,"p":0},{"g":"f","s":"3MC2","t":200,"p":0.01},{"g":"f","s":"3MC2","t":205,"p":0.02},{"g":"f","s":"3MC2","t":207,"p":0.02},{"g":"f","s":"3MC2","t":210,"p":0.08},{"g":"f","s":"3MC2","t":213,"p":0.2},{"g":"f","s":"3MC2","t":216,"p":0.29},{"g":"f","s":"3MC2","t":219,"p":0.35},{"g":"f","s":"3MC2","t":221,"p":0.49},{"g":"f","s":"3MC2","t":224,"p":0.7},{"g":"f","s":"3MC2","t":226,"p":0.853},{"g":"f","s":"3MC2","t":227,"p":0.955},{"g":"f","s":"3MC2","t":230,"p":0.986},{"g":"f","s":"3MC2","t":233,"p":0.976},{"g":"f","s":"3MC2","t":235,"p":0.905},{"g":"f","s":"3MC2","t":237,"p":0.698},{"g":"f","s":"3MC2","t":238,"p":0.39},{"g":"f","s":"3MC2","t":240,"p":0.133},{"g":"f","s":"3MC2","t":243,"p":0.05},{"g":"f","s":"3MC2","t":246,"p":0.02},{"g":"f","s":"3MC2","t":250,"p":0.01},{"g":"f","s":"3MC2","t":255,"p":0},{"g":"f","s":"3MC2","t":440,"p":0},
{"g":"f","s":"3MC1","t":0,"p":0},{"g":"f","s":"3MC1","t":164,"p":0},{"g":"f","s":"3MC1","t":165.5,"p":0.155},{"g":"f","s":"3MC1","t":167,"p":0},{"g":"f","s":"3MC1","t":230,"p":0},{"g":"f","s":"3MC1","t":233,"p":0.01},{"g":"f","s":"3MC1","t":235,"p":0.287},{"g":"f","s":"3MC1","t":236,"p":0.698},{"g":"f","s":"3MC1","t":237,"p":0.884},{"g":"f","s":"3MC1","t":240,"p":0.945},{"g":"f","s":"3MC1","t":244,"p":0.966},{"g":"f","s":"3MC1","t":248,"p":0.93},{"g":"f","s":"3MC1","t":252,"p":0.875},{"g":"f","s":"3MC1","t":256,"p":0.915},{"g":"f","s":"3MC1","t":261,"p":0.961},{"g":"f","s":"3MC1","t":265,"p":0.94},{"g":"f","s":"3MC1","t":268,"p":0.9},{"g":"f","s":"3MC1","t":272,"p":0.863},{"g":"f","s":"3MC1","t":275,"p":0.915},{"g":"f","s":"3MC1","t":278,"p":0.956},{"g":"f","s":"3MC1","t":281,"p":0.971},{"g":"f","s":"3MC1","t":285,"p":0.945},{"g":"f","s":"3MC1","t":290,"p":0.904},{"g":"f","s":"3MC1","t":293,"p":0.853},{"g":"f","s":"3MC1","t":296,"p":0.8},{"g":"f","s":"3MC1","t":299,"p":0.6},{"g":"f","s":"3MC1","t":302,"p":0.35},{"g":"f","s":"3MC1","t":305,"p":0.14},{"g":"f","s":"3MC1","t":307,"p":0.09},{"g":"f","s":"3MC1","t":309,"p":0.13},{"g":"f","s":"3MC1","t":312,"p":0.125},{"g":"f","s":"3MC1","t":314,"p":0.08},{"g":"f","s":"3MC1","t":317,"p":0.05},{"g":"f","s":"3MC1","t":320,"p":0.01},{"g":"f","s":"3MC1","t":325,"p":0.005},{"g":"f","s":"3MC1","t":345,"p":0.005},{"g":"f","s":"3MC1","t":360,"p":0},{"g":"f","s":"3MC1","t":440,"p":0},
{"g":"f","s":"5T2g","t":0,"p":0},{"g":"f","s":"5T2g","t":208,"p":0},{"g":"f","s":"5T2g","t":211,"p":0.03},{"g":"f","s":"5T2g","t":214,"p":0.1},{"g":"f","s":"5T2g","t":217,"p":0.13},{"g":"f","s":"5T2g","t":220,"p":0.09},{"g":"f","s":"5T2g","t":224,"p":0.03},{"g":"f","s":"5T2g","t":228,"p":0},{"g":"f","s":"5T2g","t":236,"p":0.005},{"g":"f","s":"5T2g","t":240,"p":0.03},{"g":"f","s":"5T2g","t":246,"p":0.07},{"g":"f","s":"5T2g","t":250,"p":0.1},{"g":"f","s":"5T2g","t":254,"p":0.125},{"g":"f","s":"5T2g","t":257,"p":0.11},{"g":"f","s":"5T2g","t":260,"p":0.08},{"g":"f","s":"5T2g","t":263,"p":0.04},{"g":"f","s":"5T2g","t":266,"p":0.06},{"g":"f","s":"5T2g","t":268,"p":0.09},{"g":"f","s":"5T2g","t":271,"p":0.12},{"g":"f","s":"5T2g","t":273,"p":0.13},{"g":"f","s":"5T2g","t":275,"p":0.1},{"g":"f","s":"5T2g","t":277,"p":0.06},{"g":"f","s":"5T2g","t":280,"p":0.03},{"g":"f","s":"5T2g","t":282,"p":0.014},{"g":"f","s":"5T2g","t":285,"p":0.04},{"g":"f","s":"5T2g","t":287,"p":0.07},{"g":"f","s":"5T2g","t":290,"p":0.12},{"g":"f","s":"5T2g","t":292,"p":0.174},{"g":"f","s":"5T2g","t":295,"p":0.277},{"g":"f","s":"5T2g","t":298,"p":0.4},{"g":"f","s":"5T2g","t":300,"p":0.45},{"g":"f","s":"5T2g","t":301,"p":0.49},{"g":"f","s":"5T2g","t":302,"p":0.647},{"g":"f","s":"5T2g","t":304,"p":0.75},{"g":"f","s":"5T2g","t":306,"p":0.86},{"g":"f","s":"5T2g","t":307,"p":0.935},{"g":"f","s":"5T2g","t":308,"p":0.92},{"g":"f","s":"5T2g","t":310,"p":0.884},{"g":"f","s":"5T2g","t":313,"p":0.91},{"g":"f","s":"5T2g","t":317,"p":0.976},{"g":"f","s":"5T2g","t":321,"p":0.995},{"g":"f","s":"5T2g","t":440,"p":0.995}
],
"keys": [
{"g":"b","s":"1MLCT","y":0.68,"x":1224,"x2":1384},{"g":"b","s":"1T1g","y":0.601,"x":1224,"x2":1384},{"g":"b","s":"3MLCT","y":0.523,"x":1224,"x2":1384},{"g":"b","s":"3MC2","y":0.444,"x":1224,"x2":1384},{"g":"b","s":"3MC1","y":0.366,"x":1224,"x2":1384},{"g":"b","s":"5Eg","y":0.288,"x":1224,"x2":1384},{"g":"b","s":"5T2g","y":0.209,"x":1224,"x2":1384},{"g":"b","s":"1A1g","y":0.13,"x":1224,"x2":1384},
{"g":"f","s":"1MLCT","y":0.609,"x":386,"x2":435},{"g":"f","s":"3MLCT","y":0.531,"x":386,"x2":435},{"g":"f","s":"3MC2","y":0.453,"x":386,"x2":435},{"g":"f","s":"3MC1","y":0.374,"x":386,"x2":435},{"g":"f","s":"5T2g","y":0.295,"x":386,"x2":435}
],
"labels": [
{"g":"b","s":"1MLCT","k":"p","txt":"1","x":34.5,"y":0.791},{"g":"b","s":"1MLCT","k":"m","txt":"MLCT","x":60.6,"y":0.791},
{"g":"b","s":"5T2g","k":"p","txt":"5","x":903,"y":0.884},{"g":"b","s":"5T2g","k":"m","txt":"T","x":923,"y":0.884},{"g":"b","s":"5T2g","k":"u","txt":"2g","x":961,"y":0.884},
{"g":"b","s":"key","k":"m","txt":"(b)","x":1350,"y":0.893},
{"g":"b","s":"key","k":"m","txt":"case 2","x":1234,"y":0.796},
{"g":"b","s":"3MLCT","k":"p","txt":"3","x":-96,"y":0.258},{"g":"b","s":"3MLCT","k":"m","txt":"MLCT","x":-70,"y":0.258},
{"g":"b","s":"3MC2","k":"p","txt":"3","x":301,"y":0.135},{"g":"b","s":"3MC2","k":"m","txt":"MC","x":327,"y":0.135},{"g":"b","s":"3MC2","k":"u","txt":"2","x":422,"y":0.135},
{"g":"b","s":"3MC1","k":"p","txt":"3","x":453,"y":0.172},{"g":"b","s":"3MC1","k":"m","txt":"MC","x":479,"y":0.172},{"g":"b","s":"3MC1","k":"u","txt":"1","x":563,"y":0.172},
{"g":"b","s":"5Eg","k":"p","txt":"5","x":751,"y":0.106},{"g":"b","s":"5Eg","k":"m","txt":"E","x":777,"y":0.106},{"g":"b","s":"5Eg","k":"u","txt":"g","x":819,"y":0.106},
{"g":"b","s":"key","k":"p","txt":"1","x":1005,"y":0.673},{"g":"b","s":"key","k":"m","txt":"MLCT","x":1030,"y":0.673},
{"g":"b","s":"key","k":"p","txt":"1","x":1072,"y":0.594},{"g":"b","s":"key","k":"m","txt":"T","x":1099,"y":0.594},{"g":"b","s":"key","k":"u","txt":"1g","x":1135,"y":0.594},
{"g":"b","s":"key","k":"p","txt":"3","x":1005,"y":0.516},{"g":"b","s":"key","k":"m","txt":"MLCT","x":1030,"y":0.516},
{"g":"b","s":"key","k":"p","txt":"3","x":1046,"y":0.437},{"g":"b","s":"key","k":"m","txt":"MC","x":1073,"y":0.437},{"g":"b","s":"key","k":"u","txt":"2","x":1160,"y":0.437},
{"g":"b","s":"key","k":"p","txt":"3","x":1046,"y":0.359},{"g":"b","s":"key","k":"m","txt":"MC","x":1073,"y":0.359},{"g":"b","s":"key","k":"u","txt":"1","x":1160,"y":0.359},
{"g":"b","s":"key","k":"p","txt":"5","x":1099,"y":0.281},{"g":"b","s":"key","k":"m","txt":"E","x":1125,"y":0.281},{"g":"b","s":"key","k":"u","txt":"g","x":1160,"y":0.281},
{"g":"b","s":"key","k":"p","txt":"5","x":1074,"y":0.202},{"g":"b","s":"key","k":"m","txt":"T","x":1099,"y":0.202},{"g":"b","s":"key","k":"u","txt":"2g","x":1135,"y":0.202},
{"g":"b","s":"key","k":"p","txt":"1","x":1069,"y":0.123},{"g":"b","s":"key","k":"m","txt":"A","x":1096,"y":0.123},{"g":"b","s":"key","k":"u","txt":"1g","x":1135,"y":0.123},
{"g":"f","s":"1MLCT","k":"p","txt":"1","x":16.7,"y":0.693},{"g":"f","s":"1MLCT","k":"m","txt":"MLCT","x":24.5,"y":0.693},
{"g":"f","s":"3MLCT","k":"p","txt":"3","x":16.7,"y":0.242},{"g":"f","s":"3MLCT","k":"m","txt":"MLCT","x":24.5,"y":0.242},
{"g":"f","s":"3MC1","k":"p","txt":"3","x":243,"y":0.814},{"g":"f","s":"3MC1","k":"m","txt":"MC","x":250.7,"y":0.814},{"g":"f","s":"3MC1","k":"u","txt":"1","x":279,"y":0.814},
{"g":"f","s":"5T2g","k":"p","txt":"5","x":326,"y":0.922},{"g":"f","s":"5T2g","k":"m","txt":"T","x":332.4,"y":0.922},{"g":"f","s":"5T2g","k":"u","txt":"2g","x":343.4,"y":0.922},
{"g":"f","s":"key","k":"m","txt":"(f)","x":405,"y":0.896},
{"g":"f","s":"key","k":"m","txt":"sequential","x":339,"y":0.83},
{"g":"f","s":"key","k":"m","txt":"(type 1)","x":362,"y":0.769},
{"g":"f","s":"key","k":"p","txt":"1","x":317.4,"y":0.602},{"g":"f","s":"key","k":"m","txt":"MLCT","x":325.5,"y":0.602},
{"g":"f","s":"key","k":"p","txt":"3","x":317.4,"y":0.524},{"g":"f","s":"key","k":"m","txt":"MLCT","x":325.5,"y":0.524},
{"g":"f","s":"key","k":"p","txt":"3","x":329.3,"y":0.446},{"g":"f","s":"key","k":"m","txt":"MC","x":337.1,"y":0.446},{"g":"f","s":"key","k":"u","txt":"2","x":363.6,"y":0.446},
{"g":"f","s":"key","k":"p","txt":"3","x":329.3,"y":0.367},{"g":"f","s":"key","k":"m","txt":"MC","x":337.1,"y":0.367},{"g":"f","s":"key","k":"u","txt":"1","x":363.6,"y":0.367},
{"g":"f","s":"key","k":"p","txt":"5","x":337.6,"y":0.288},{"g":"f","s":"key","k":"m","txt":"T","x":345.4,"y":0.288},{"g":"f","s":"key","k":"u","txt":"2g","x":355.8,"y":0.288}
]
},
"hconcat": [
{
 "width": 478, "height": 324,
 "resolve": {"axis": {"x": "independent", "y": "independent"}},
 "layer": [
  {
   "data": {"name": "curves"},
   "transform": [{"filter": "datum.g == 'b'"}],
   "mark": {"type": "line", "strokeWidth": 1.8, "clip": true},
   "encoding": {
    "x": {"field": "t", "type": "quantitative", "scale": {"domain": [0, 1500], "nice": false, "zero": false},
          "axis": {"orient": "bottom", "values": [0,100,200,300,400,500,600,700,800,900,1000,1100,1200,1300,1400], "format": "d", "labelExpr": "datum.value % 200 == 0 ? datum.label : ''", "labelPadding": 9, "title": "t (fs)", "titleFontStyle": "italic", "titlePadding": 1}},
    "y": {"field": "p", "type": "quantitative", "scale": {"domain": [0, 1], "nice": false},
          "axis": {"orient": "left", "values": [0,0.1,0.2,0.3,0.4,0.5,0.6,0.7,0.8,0.9,1], "format": "~g", "labelExpr": "round(datum.value*10) % 2 == 0 ? datum.label : ''", "labelPadding": 13, "title": "P(t)", "titleFontStyle": "italic", "titlePadding": 4}},
    "color": {"field": "s", "type": "nominal", "legend": null, "scale": {"domain": ["1MLCT","1T1g","3MLCT","3MC2","3MC1","5Eg","5T2g","1A1g","key"], "range": ["#0000ff","#0000ff","#006400","#00ff00","#006400","#8b0000","#ff0000","#00ffff","#000000"]}},
    "strokeDash": {"field": "s", "type": "nominal", "legend": null, "scale": {"domain": ["1MLCT","1T1g","3MLCT","3MC2","3MC1","5Eg","5T2g","1A1g","key"], "range": [[1,0],[10,7],[1,0],[10,7],[10,7],[10,7],[10,7],[10,7],[1,0]]}}
   }
  },
  {
   "data": {"name": "keys"},
   "transform": [{"filter": "datum.g == 'b'"}],
   "mark": {"type": "rule", "strokeWidth": 1.8},
   "encoding": {
    "x": {"field": "x", "type": "quantitative", "scale": {"domain": [0, 1500], "nice": false, "zero": false},
          "axis": {"orient": "top", "values": [0,100,200,300,400,500,600,700,800,900,1000,1100,1200,1300,1400,1500], "labels": false, "title": null}},
    "x2": {"field": "x2"},
    "y": {"field": "y", "type": "quantitative", "scale": {"domain": [0, 1], "nice": false},
          "axis": {"orient": "right", "values": [0,0.1,0.2,0.3,0.4,0.5,0.6,0.7,0.8,0.9,1], "labels": false, "title": null}},
    "color": {"field": "s", "type": "nominal", "legend": null, "scale": {"domain": ["1MLCT","1T1g","3MLCT","3MC2","3MC1","5Eg","5T2g","1A1g","key"], "range": ["#0000ff","#0000ff","#006400","#00ff00","#006400","#8b0000","#ff0000","#00ffff","#000000"]}},
    "strokeDash": {"field": "s", "type": "nominal", "legend": null, "scale": {"domain": ["1MLCT","1T1g","3MLCT","3MC2","3MC1","5Eg","5T2g","1A1g","key"], "range": [[1,0],[10,7],[1,0],[10,7],[10,7],[10,7],[10,7],[10,7],[1,0]]}}
   }
  },
  {
   "data": {"name": "labels"},
   "transform": [{"filter": "datum.g == 'b' && datum.k == 'm'"}],
   "mark": {"type": "text", "font": "DejaVu Sans", "fontSize": 18, "align": "left", "baseline": "middle"},
   "encoding": {
    "x": {"field": "x", "type": "quantitative", "axis": null},
    "y": {"field": "y", "type": "quantitative", "axis": null},
    "text": {"field": "txt"},
    "color": {"field": "s", "type": "nominal", "legend": null, "scale": {"domain": ["1MLCT","1T1g","3MLCT","3MC2","3MC1","5Eg","5T2g","1A1g","key"], "range": ["#0000ff","#0000ff","#006400","#00ff00","#006400","#8b0000","#ff0000","#00ffff","#000000"]}}
   }
  },
  {
   "data": {"name": "labels"},
   "transform": [{"filter": "datum.g == 'b' && datum.k == 'p'"}],
   "mark": {"type": "text", "font": "DejaVu Sans", "fontSize": 13, "align": "left", "baseline": "middle", "dy": -8},
   "encoding": {
    "x": {"field": "x", "type": "quantitative", "axis": null},
    "y": {"field": "y", "type": "quantitative", "axis": null},
    "text": {"field": "txt"},
    "color": {"field": "s", "type": "nominal", "legend": null, "scale": {"domain": ["1MLCT","1T1g","3MLCT","3MC2","3MC1","5Eg","5T2g","1A1g","key"], "range": ["#0000ff","#0000ff","#006400","#00ff00","#006400","#8b0000","#ff0000","#00ffff","#000000"]}}
   }
  },
  {
   "data": {"name": "labels"},
   "transform": [{"filter": "datum.g == 'b' && datum.k == 'u'"}],
   "mark": {"type": "text", "font": "DejaVu Sans", "fontSize": 13, "align": "left", "baseline": "middle", "dy": 8},
   "encoding": {
    "x": {"field": "x", "type": "quantitative", "axis": null},
    "y": {"field": "y", "type": "quantitative", "axis": null},
    "text": {"field": "txt"},
    "color": {"field": "s", "type": "nominal", "legend": null, "scale": {"domain": ["1MLCT","1T1g","3MLCT","3MC2","3MC1","5Eg","5T2g","1A1g","key"], "range": ["#0000ff","#0000ff","#006400","#00ff00","#006400","#8b0000","#ff0000","#00ffff","#000000"]}}
   }
  }
 ]
},
{
 "width": 467, "height": 324,
 "resolve": {"axis": {"x": "independent", "y": "independent"}},
 "layer": [
  {
   "data": {"name": "curves"},
   "transform": [{"filter": "datum.g == 'f'"}],
   "mark": {"type": "line", "strokeWidth": 1.8, "clip": true},
   "encoding": {
    "x": {"field": "t", "type": "quantitative", "scale": {"domain": [0, 440], "nice": false, "zero": false},
          "axis": {"orient": "bottom", "values": [0,50,100,150,200,250,300,350,400], "format": "d", "labelExpr": "datum.value % 100 == 0 ? datum.label : ''", "labelPadding": 9, "title": "t (fs)", "titleFontStyle": "italic", "titlePadding": 1}},
    "y": {"field": "p", "type": "quantitative", "scale": {"domain": [0, 1], "nice": false},
          "axis": {"orient": "left", "values": [0,0.1,0.2,0.3,0.4,0.5,0.6,0.7,0.8,0.9,1], "format": "~g", "labelExpr": "round(datum.value*10) % 2 == 0 ? datum.label : ''", "labelPadding": 13, "title": null}},
    "color": {"field": "s", "type": "nominal", "legend": null, "scale": {"domain": ["1MLCT","1T1g","3MLCT","3MC2","3MC1","5Eg","5T2g","1A1g","key"], "range": ["#0000ff","#0000ff","#006400","#00ff00","#006400","#8b0000","#ff0000","#00ffff","#000000"]}},
    "strokeDash": {"field": "s", "type": "nominal", "legend": null, "scale": {"domain": ["1MLCT","1T1g","3MLCT","3MC2","3MC1","5Eg","5T2g","1A1g","key"], "range": [[1,0],[10,7],[1,0],[10,7],[10,7],[10,7],[10,7],[10,7],[1,0]]}}
   }
  },
  {
   "data": {"name": "keys"},
   "transform": [{"filter": "datum.g == 'f'"}],
   "mark": {"type": "rule", "strokeWidth": 1.8},
   "encoding": {
    "x": {"field": "x", "type": "quantitative", "scale": {"domain": [0, 440], "nice": false, "zero": false},
          "axis": {"orient": "top", "values": [0,50,100,150,200,250,300,350,400], "labels": false, "title": null}},
    "x2": {"field": "x2"},
    "y": {"field": "y", "type": "quantitative", "scale": {"domain": [0, 1], "nice": false}, "axis": null},
    "color": {"field": "s", "type": "nominal", "legend": null, "scale": {"domain": ["1MLCT","1T1g","3MLCT","3MC2","3MC1","5Eg","5T2g","1A1g","key"], "range": ["#0000ff","#0000ff","#006400","#00ff00","#006400","#8b0000","#ff0000","#00ffff","#000000"]}},
    "strokeDash": {"field": "s", "type": "nominal", "legend": null, "scale": {"domain": ["1MLCT","1T1g","3MLCT","3MC2","3MC1","5Eg","5T2g","1A1g","key"], "range": [[1,0],[10,7],[1,0],[10,7],[10,7],[10,7],[10,7],[10,7],[1,0]]}}
   }
  },
  {
   "data": {"name": "labels"},
   "transform": [{"filter": "datum.g == 'f' && datum.k == 'm'"}],
   "mark": {"type": "text", "font": "DejaVu Sans", "fontSize": 18, "align": "left", "baseline": "middle"},
   "encoding": {
    "x": {"field": "x", "type": "quantitative", "axis": null},
    "y": {"field": "y", "type": "quantitative", "axis": null},
    "text": {"field": "txt"},
    "color": {"field": "s", "type": "nominal", "legend": null, "scale": {"domain": ["1MLCT","1T1g","3MLCT","3MC2","3MC1","5Eg","5T2g","1A1g","key"], "range": ["#0000ff","#0000ff","#006400","#00ff00","#006400","#8b0000","#ff0000","#00ffff","#000000"]}}
   }
  },
  {
   "data": {"name": "labels"},
   "transform": [{"filter": "datum.g == 'f' && datum.k == 'p'"}],
   "mark": {"type": "text", "font": "DejaVu Sans", "fontSize": 13, "align": "left", "baseline": "middle", "dy": -8},
   "encoding": {
    "x": {"field": "x", "type": "quantitative", "axis": null},
    "y": {"field": "y", "type": "quantitative", "axis": null},
    "text": {"field": "txt"},
    "color": {"field": "s", "type": "nominal", "legend": null, "scale": {"domain": ["1MLCT","1T1g","3MLCT","3MC2","3MC1","5Eg","5T2g","1A1g","key"], "range": ["#0000ff","#0000ff","#006400","#00ff00","#006400","#8b0000","#ff0000","#00ffff","#000000"]}}
   }
  },
  {
   "data": {"name": "labels"},
   "transform": [{"filter": "datum.g == 'f' && datum.k == 'u'"}],
   "mark": {"type": "text", "font": "DejaVu Sans", "fontSize": 13, "align": "left", "baseline": "middle", "dy": 8},
   "encoding": {
    "x": {"field": "x", "type": "quantitative", "axis": null},
    "y": {"field": "y", "type": "quantitative", "axis": null},
    "text": {"field": "txt"},
    "color": {"field": "s", "type": "nominal", "legend": null, "scale": {"domain": ["1MLCT","1T1g","3MLCT","3MC2","3MC1","5Eg","5T2g","1A1g","key"], "range": ["#0000ff","#0000ff","#006400","#00ff00","#006400","#8b0000","#ff0000","#00ffff","#000000"]}}
   }
  }
 ]
}
]
}
